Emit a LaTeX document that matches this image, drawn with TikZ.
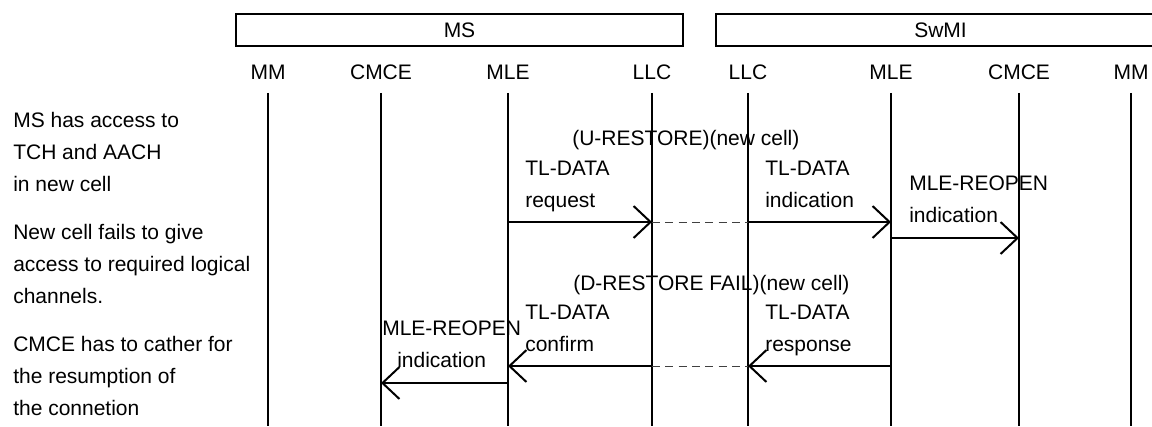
\documentclass[tikz,border=0pt]{standalone}
\usepackage{fontspec}
\setmainfont{Liberation Sans}
\usetikzlibrary{arrows.meta}

\begin{document}
\begin{tikzpicture}[x=0.75pt, y=-0.75pt, >={Straight Barb[length=12.75pt, width=24pt]},
	font=\fontsize{15.75pt}{24pt}\selectfont,
	every node/.style={inner sep=0pt},
	unit/.style={draw, line width=2pt, minimum height=24pt},
	life/.style={line width=1.5pt},
	msg/.style={->, line width=1.5pt},
	relay/.style={dash pattern=on 6pt off 4pt, line width=0.75pt, black!75},
	lbl/.style={anchor=base west, align=left}]
	\useasboundingbox (0,0) rectangle (1152,426);
	\node[unit, minimum width=335.25pt] (ms) at (459.5,30) {MS};
	\node[unit, minimum width=336.75pt] (swmi) at (940.5,30) {SwMI};
	\coordinate (bot) at (0,426);
	\foreach \n/\x/\t in {msMM/268/MM, msCMCE/381/CMCE, msMLE/508/MLE, msLLC/652/LLC,
		swLLC/748/LLC, swMLE/891/MLE, swCMCE/1019/CMCE, swMM/1131/MM} {
		\node[anchor=base] (\n) at (\x,79.5) {\t};
		\draw[life] ([yshift=-10pt]\n.base) -- (\n |- bot);
	}
	\coordinate (r1) at (0,222);
	\coordinate (r2) at (0,238);
	\coordinate (r3) at (0,366);
	\coordinate (r4) at (0,383);
	\draw[msg] (msMLE |- r1) -- (msLLC |- r1);
	\draw[relay] (msLLC |- r1) -- (swLLC |- r1);
	\draw[msg] (swLLC |- r1) -- (swMLE |- r1);
	\draw[msg] (swMLE |- r2) -- (swCMCE |- r2);
	\draw[msg] (msLLC |- r3) -- (msMLE |- r3);
	\draw[relay] (msLLC |- r3) -- (swLLC |- r3);
	\draw[msg] (swMLE |- r3) -- (swLLC |- r3);
	\draw[msg] (msMLE |- r4) -- (msCMCE |- r4);
	\node[lbl] (uRes) at (572,145) {(U-RESTORE)(new cell)};
	\node[lbl] (tlReq) at (525,207) {TL-DATA\\request};
	\node[lbl] (tlInd) at (765,207) {TL-DATA\\indication};
	\node[lbl] (mleInd) at (909,222.5) {MLE-REOPEN\\indication};
	\node[lbl] (dRes) at (573,290) {(D-RESTORE FAIL)(new cell)};
	\node[lbl] (tlCon) at (525,351.5) {TL-DATA\\confirm};
	\node[lbl] (tlRsp) at (765,351.5) {TL-DATA\\response};
	\node[lbl] (mleCon) at (382,367.5) {MLE-REOPEN\\\hspace*{11.25pt}indication};
	\node[lbl] (note1) at (13,191) {MS has access to\\TCH and AACH\\in new cell};
	\node[lbl] (note2) at (13,303) {New cell fails to give\\access to required logical\\channels.};
	\node[lbl] (note3) at (13,415) {CMCE has to cather for\\the resumption of\\the connetion};
\end{tikzpicture}
\end{document}
